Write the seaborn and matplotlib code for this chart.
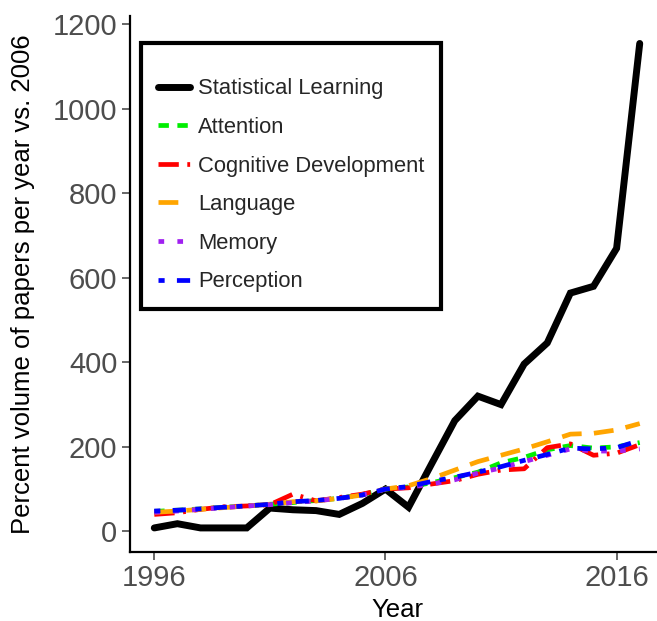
import numpy as np
import pandas as pd
import matplotlib
matplotlib.use("Agg")
import matplotlib.pyplot as plt
import seaborn as sns

years = list(range(1996, 2018))
statistical_learning = [8, 18, 8, 8, 8, 55, 51, 49, 40, 66, 100, 57, 160, 262, 320, 300, 396, 446, 564, 580, 670, 1155]
attention = [47, 50, 53, 57, 60, 64, 68, 73, 78, 87, 100, 105, 115, 127, 140, 162, 175, 193, 203, 197, 200, 210]
cognitive_development = [40, 44, 52, 58, 60, 63, 88, 72, 80, 88, 100, 103, 112, 120, 135, 145, 148, 198, 207, 180, 185, 205]
language = [45, 48, 52, 56, 60, 64, 70, 72, 78, 86, 100, 108, 125, 145, 165, 180, 195, 212, 230, 232, 240, 255]
memory = [45, 48, 52, 56, 60, 63, 68, 72, 78, 86, 100, 104, 112, 122, 138, 150, 165, 180, 195, 190, 190, 195]
perception = [48, 50, 53, 57, 60, 64, 70, 73, 78, 86, 100, 106, 118, 128, 140, 153, 168, 182, 197, 195, 198, 215]

series_names = ["Statistical Learning", "Attention", "Cognitive Development", "Language", "Memory", "Perception"]
series_values = [statistical_learning, attention, cognitive_development, language, memory, perception]

colors = ["#000000", "#00EE00", "#FF0000", "#FFA500", "#A020F0", "#0000FF"]
widths = [5.0, 3.4, 3.4, 3.4, 3.4, 3.4]
styles = ["-", (0, (2.2, 1.8)), (0, (4.3, 1.8, 0.6, 1.8)), (0, (4.2, 2.6)), (0, (1.2, 2.8)), (0, (1.3, 2.6, 2.8, 2.0))]

sns.set_style("ticks")
plt.rcParams["font.family"] = ["Liberation Sans", "DejaVu Sans"]

fig = plt.figure(figsize=(6.57, 6.21), dpi=100)
ax = fig.add_axes([130 / 657, 69 / 621, 534 / 657, 536 / 621])

for name, vals, c, lw, ls in zip(series_names, series_values, colors, widths, styles):
    df = pd.DataFrame({"Year": years, "Value": vals})
    sns.lineplot(data=df, x="Year", y="Value", ax=ax, color=c, linewidth=lw,
                 linestyle=ls, label=name, solid_joinstyle="miter")

ax.set_xlim(1994.95, 2018.05)
ax.set_ylim(-49, 1220)
ax.set_xticks([1996, 2006, 2016])
ax.set_yticks([0, 200, 400, 600, 800, 1000, 1200])
ax.tick_params(axis="both", labelsize=21, colors="#4d4d4d", length=6, width=1.2, pad=3)
for lab in ax.get_xticklabels() + ax.get_yticklabels():
    lab.set_color("#4d4d4d")
ax.set_xlabel("Year", fontsize=18.5, color="black", labelpad=4)
ax.set_ylabel("Percent volume of papers per year vs. 2006", fontsize=18.5, color="black", labelpad=13)
for s in ["top", "right"]:
    ax.spines[s].set_visible(False)
for s in ["left", "bottom"]:
    ax.spines[s].set_linewidth(1.6)
    ax.spines[s].set_color("black")

leg = ax.legend(loc="upper left", bbox_to_anchor=(0.021, 0.95), borderaxespad=0,
                fontsize=15.8, frameon=True, fancybox=False, framealpha=1,
                handlelength=1.45, handletextpad=0.35,
                labelspacing=0.8, borderpad=0.78, title=" ", title_fontsize=0.5)
leg.get_frame().set_edgecolor("black")
leg.get_frame().set_linewidth(3)

fig.savefig("out.png", dpi=100)
